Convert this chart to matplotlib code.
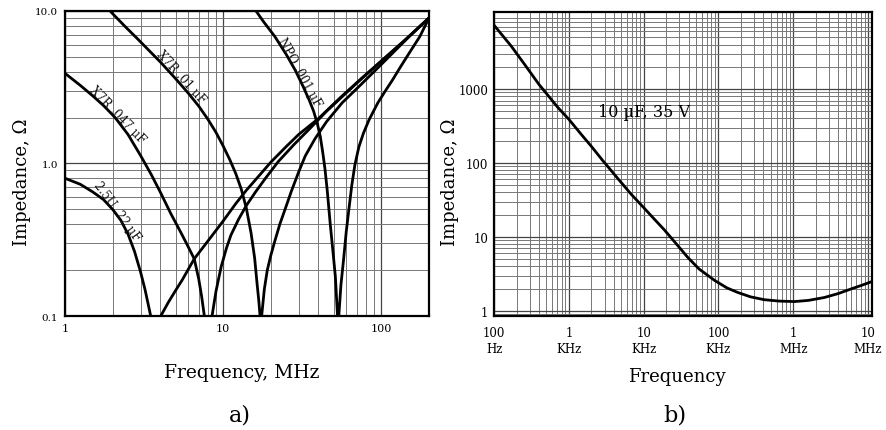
import matplotlib
matplotlib.use("Agg")
import matplotlib.pyplot as plt
from matplotlib.ticker import FixedLocator, FixedFormatter, NullFormatter

plt.rcParams["font.family"] = ["DejaVu Serif"]

# ---- panel a): ceramic capacitors, frequency in MHz, impedance in ohm ----
f_25u = [1.0, 1.25, 1.5, 1.75, 2.0, 2.25, 2.5, 2.75, 3.0, 3.2, 3.4, 3.5, 3.6, 3.75, 3.9,
         4.03, 4.5, 5.0, 5.5, 6.56, 8, 10, 12, 14, 17, 20, 25, 30, 40, 56, 75, 100, 140, 200]
z_25u = [0.8, 0.73, 0.65, 0.58, 0.5, 0.425, 0.345, 0.265, 0.195, 0.15, 0.112, 0.097, 0.08, 0.05, 0.07,
         0.1, 0.123, 0.147, 0.172, 0.237, 0.31, 0.42, 0.545, 0.667, 0.84, 1.02, 1.29, 1.55, 1.97, 2.75,
         3.62, 4.7, 6.4, 9.0]

f_x7r047 = [1.0, 1.25, 1.5, 1.75, 2.0, 2.13, 2.5, 3.0, 3.5, 4.0, 4.66, 5.5, 6.0, 6.56, 7.0, 7.3,
            7.6, 7.8, 8.05, 8.3, 8.5, 9.0, 9.7, 10.5, 11.2, 12.5, 14, 16, 18.5, 22.3, 28, 35, 45,
            56, 75, 100, 140, 200]
z_x7r047 = [3.9, 3.25, 2.77, 2.4, 2.08, 1.93, 1.55, 1.13, 0.85, 0.65, 0.47, 0.34, 0.285, 0.237,
            0.175, 0.135, 0.1, 0.075, 0.05, 0.075, 0.1, 0.145, 0.21, 0.28, 0.34, 0.43, 0.53, 0.65,
            0.8, 1.03, 1.33, 1.68, 2.2, 2.72, 3.6, 4.7, 6.4, 9.0]

f_x7r01 = [1.8, 2.0, 2.4, 2.86, 3.4, 4.03, 5.0, 6.0, 7.0, 8.0, 9.0, 10, 11, 12, 13, 14, 15,
           15.8, 16.4, 16.8, 17.1, 17.3, 17.5, 18.2, 19, 20, 21.2, 22.8, 24.6, 27, 30, 33, 38,
           45, 56.5, 70, 92, 120, 150, 200]
z_x7r01 = [10.8, 9.6, 7.9, 6.6, 5.5, 4.6, 3.6, 2.9, 2.38, 1.95, 1.6, 1.3, 1.06, 0.86, 0.68,
           0.51, 0.35, 0.24, 0.16, 0.125, 0.1, 0.06, 0.1, 0.15, 0.2, 0.25, 0.31, 0.4, 0.5, 0.66,
           0.88, 1.12, 1.45, 1.88, 2.5, 3.1, 4.1, 5.4, 6.8, 9.0]

f_npo = [15.5, 18, 21.2, 25, 28.5, 32, 35, 37.3, 39.5, 41.1, 42.5, 44, 45.5, 47.5, 49.5, 51.2,
         52.3, 52.8, 53.3, 53.8, 55.5, 57.8, 60, 62.3, 65, 68, 72, 77, 83.5, 95, 105, 117, 133,
         150, 175, 200]
z_npo = [10.6, 8.5, 6.8, 5.2, 4.1, 3.2, 2.6, 2.2, 1.8, 1.5, 1.2, 0.92, 0.66, 0.4, 0.26, 0.18,
         0.12, 0.1, 0.06, 0.1, 0.16, 0.24, 0.36, 0.5, 0.72, 0.98, 1.28, 1.58, 1.93, 2.5, 2.95,
         3.5, 4.35, 5.3, 6.8, 9.0]

curve_labels = ["2.5U .22 µF", "X7R .047 µF", "X7R .01 µF", "NPO .001 µF"]
label_xy = [(2.14, 0.49), (2.14, 2.1), (5.4, 3.7), (30.5, 4.0)]
label_rot = [-54, -46, -48, -61]

a_yticks = [0.1, 1.0, 10.0]
a_ylabels = ["0.1", "1.0", "10.0"]
a_xticks = [1, 10, 100]
a_xlabels = ["1", "10", "100"]

# ---- panel b): 10 uF tantalum, frequency in Hz ----
f_tant = [100, 170, 254, 400, 711, 1000, 1455, 2000, 2840, 4500, 6790, 10000, 14000, 18900,
          27000, 38900, 55000, 88300, 130000, 181000, 270000, 410000, 650000, 1040000,
          1600000, 2600000, 4000000, 5900000, 8500000, 11300000]
z_tant = [7300, 3800, 2180, 1150, 566, 390, 246, 168, 108, 62, 38, 25, 17.3, 12.5,
          8.2, 5.3, 3.7, 2.6, 2.05, 1.78, 1.55, 1.42, 1.36, 1.34,
          1.39, 1.52, 1.72, 1.98, 2.25, 2.5]

b_xticks = [1e2, 1e3, 1e4, 1e5, 1e6, 1e7]
b_xlabels = ["100\nHz", "1\nKHz", "10\nKHz", "100\nKHz", "1\nMHz", "10\nMHz"]
b_yticks = [1, 10, 100, 1000]
b_ylabels = ["1", "10", "100", "1000"]


def style_log_axes(ax):
    ax.set_xscale("log")
    ax.set_yscale("log")
    ax.grid(True, which="major", color="#444444", lw=0.9)
    ax.grid(True, which="minor", color="#777777", lw=0.7)
    ax.tick_params(which="both", length=0, labelsize=8)
    ax.xaxis.set_minor_formatter(NullFormatter())
    ax.yaxis.set_minor_formatter(NullFormatter())
    for s in ax.spines.values():
        s.set_linewidth(1.6)
        s.set_color("black")
    ax.set_axisbelow(True)


fig = plt.figure(figsize=(8.86, 4.31), dpi=100)

ax1 = fig.add_axes([0.0734, 0.2645, 0.4108, 0.7077])
style_log_axes(ax1)
for f, z in [(f_25u, z_25u), (f_x7r047, z_x7r047), (f_x7r01, z_x7r01), (f_npo, z_npo)]:
    ax1.plot(f, z, color="black", lw=2.0, solid_joinstyle="round")
for txt, (x, y), rot in zip(curve_labels, label_xy, label_rot):
    ax1.text(x, y, txt, rotation=rot, rotation_mode="anchor", ha="center", va="center",
             fontsize=8.5, color="#111111")
ax1.set_xlim(1, 200)
ax1.set_ylim(0.1, 10)
ax1.yaxis.set_major_locator(FixedLocator(a_yticks))
ax1.yaxis.set_major_formatter(FixedFormatter(a_ylabels))
ax1.xaxis.set_major_locator(FixedLocator(a_xticks))
ax1.xaxis.set_major_formatter(FixedFormatter(a_xlabels))
ax1.tick_params(axis="y", pad=5, labelsize=7.5)
ax1.tick_params(axis="x", pad=5, labelsize=8)

ax2 = fig.add_axes([0.5576, 0.2645, 0.4266, 0.7053])
style_log_axes(ax2)
ax2.plot(f_tant, z_tant, color="black", lw=2.0, solid_joinstyle="round")
ax2.text(1.0e4, 490, "10 µF, 35 V", ha="center", va="center", fontsize=11.5)
ax2.set_xlim(100, 1.13e7)
ax2.set_ylim(0.855, 1.1e4)
ax2.xaxis.set_major_locator(FixedLocator(b_xticks))
ax2.xaxis.set_major_formatter(FixedFormatter(b_xlabels))
ax2.yaxis.set_major_locator(FixedLocator(b_yticks))
ax2.yaxis.set_major_formatter(FixedFormatter(b_ylabels))
ax2.tick_params(axis="x", pad=7, labelsize=8.5)
ax2.tick_params(axis="y", pad=4, labelsize=8.5)
plt.setp(ax2.get_xticklabels(), linespacing=1.3)

fig.text(0.0248, 0.578, "Impedance, Ω", rotation=90, ha="center", va="center", fontsize=13)
fig.text(0.508, 0.578, "Impedance, Ω", rotation=90, ha="center", va="center", fontsize=13)
fig.text(0.273, 0.1346, "Frequency, MHz", ha="center", va="center", fontsize=13.5)
fig.text(0.764, 0.125, "Frequency", ha="center", va="center", fontsize=13)
fig.text(0.271, 0.037, "a)", ha="center", va="center", fontsize=16)
fig.text(0.762, 0.037, "b)", ha="center", va="center", fontsize=16)

fig.savefig("out.png", dpi=100)
